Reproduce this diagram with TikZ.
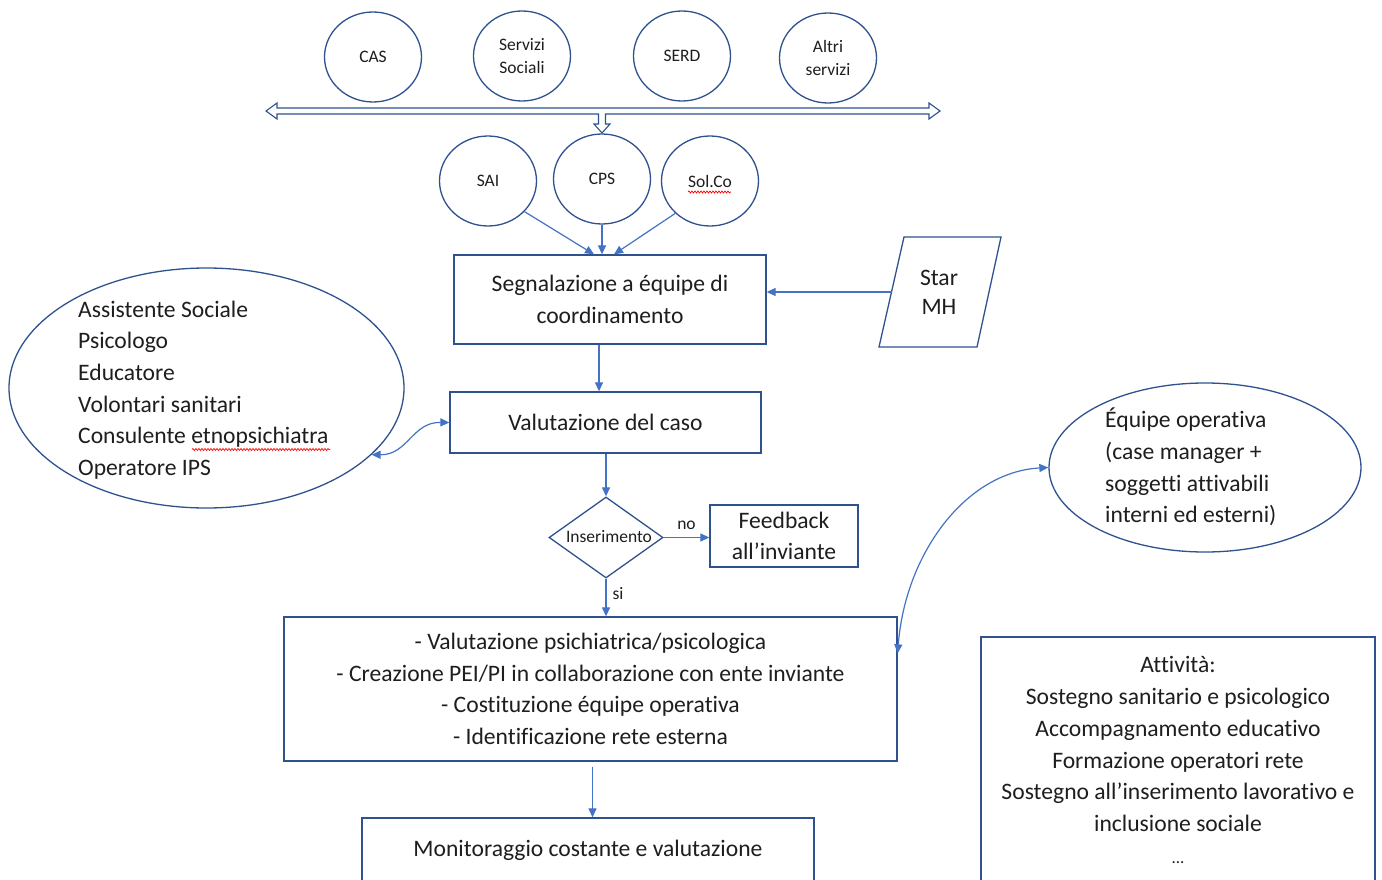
\documentclass[tikz,border=0pt]{standalone}
\usepackage{fontspec}
\setmainfont{Carlito}[Ligatures=NoCommon]
\usetikzlibrary{shapes.geometric,arrows.meta,decorations.pathmorphing}
\definecolor{shapeblue}{RGB}{47,82,143}
\definecolor{arrowblue}{RGB}{68,114,196}
\definecolor{txt}{RGB}{30,30,30}
\begin{document}
\begin{tikzpicture}[x=1pt,y=-1pt,
  shp/.style={draw=shapeblue,line width=1.3pt},
  box/.style={shp,rectangle,inner sep=0pt,text=txt,align=center,font=\fontsize{23.6}{31.7}\selectfont},
  circ/.style={shp,ellipse,inner sep=0pt,minimum width=97pt,minimum height=90pt,text=txt,align=center,font=\fontsize{17.5}{23}\selectfont},
  plain/.style={inner sep=0pt,text=txt,font=\fontsize{23.6}{31.7}\selectfont},
  small/.style={inner sep=0pt,text=txt,font=\fontsize{17.5}{23}\selectfont},
  arr/.style={draw=arrowblue,line width=1.2pt,-{Triangle[length=9pt,width=8pt]}},
  darr/.style={draw=arrowblue,line width=1.2pt,{Triangle[length=9pt,width=8pt]}-{Triangle[length=9pt,width=8pt]}},
  squiggle/.style={draw=red,line width=0.7pt,decorate,decoration={snake,amplitude=1pt,segment length=3pt}},
]
\clip (0,0) rectangle (1382,880);
\fill[white] (0,0) rectangle (1382,880);

% top services
\node[circ] (cas) at (373,57) {CAS};
\node[circ] (ss) at (522,56) {Servizi\\Sociali};
\node[circ] (serd) at (682,56) {SERD};
\node[circ] (altri) at (828,58) {Altri\\servizi};

% hollow double arrow
\draw[draw=shapeblue,line width=1.1pt,fill=white]
  (266,111) -- (277,103) -- (277,108) -- (929,108) -- (929,103) -- (940,111) -- (929,119) -- (929,114)
  -- (605.5,114) -- (605.5,124) -- (610,124) -- (602,133) -- (594,124) -- (598.5,124) -- (598.5,114)
  -- (277,114) -- (277,119) -- cycle;

% second row
\node[circ] (sai) at (488,181) {SAI};
\node[circ] (cps) at (602,179) {CPS};
\node[circ] (solco) at (710,181) {Sol.Co};
\draw[squiggle] (688,192) -- (731,192);

% main boxes
\node[box,minimum width=312pt,minimum height=89pt] (segn) at (610,299.5) {Segnalazione a équipe di\\coordinamento};
\node[box,minimum width=311pt,minimum height=61pt] (valut) at (605.5,422.5) {Valutazione del caso};
\node[box,minimum width=148pt,minimum height=62pt] (feed) at (784,536) {Feedback\\all’inviante};
\node[box,minimum width=613pt,minimum height=144pt] (big) at (590.5,689) {- Valutazione psichiatrica/psicologica\\- Creazione PEI/PI in collaborazione con ente inviante\\- Costituzione équipe operativa\\- Identificazione rete esterna};
\node[box,minimum width=452pt,minimum height=64pt] (mon) at (588,850) {Monitoraggio costante e valutazione};
\node[box,minimum width=394pt,minimum height=246pt] (att) at (1178,760) {Attività:\\Sostegno sanitario e psicologico\\Accompagnamento educativo\\Formazione operatori rete\\Sostegno all’inserimento lavorativo e\\inclusione sociale\\\fontsize{17}{20}\selectfont ...};

% Star MH parallelogram
\draw[shp] (904,237) -- (1001,237) -- (977,347) -- (879,347) -- cycle;
\node[plain,align=center,font=\fontsize{23.6}{29}\selectfont] (star) at (939,292.5) {Star\\MH};
\coordinate (starl) at (891.5,292);

% diamond
\node[shp,diamond,minimum width=114pt,minimum height=81pt,inner sep=0pt] (ins) at (606,537.5) {};
\node[small] (instext) at (609,537) {Inserimento};

% left ellipse
\node[shp,ellipse,minimum width=395pt,minimum height=240pt,inner sep=0pt] (staff) at (206.5,388) {};
\node[plain,anchor=west,align=left] (stafftext) at (78,390) {Assistente Sociale\\Psicologo\\Educatore\\Volontari sanitari\\Consulente etnopsichiatra\\Operatore IPS};
\draw[squiggle] (192,449.5) -- (330,449.5);

% right ellipse
\node[shp,ellipse,minimum width=312pt,minimum height=169pt,inner sep=0pt] (emp) at (1205,467.5) {};
\node[plain,anchor=west,align=left] (emptext) at (1105,467) {Équipe operativa\\(case manager +\\soggetti attivabili\\interni ed esterni)};

% connectors
\draw[arr] (sai.-40) -- ([xshift=-16pt]segn.north);
\draw[arr] (cps.south) -- (cps.south |- segn.north);
\draw[arr] (solco.-137) -- ([xshift=4pt]segn.north);
\draw[arr] (starl) -- (starl -| segn.east);
\draw[arr] ([xshift=-11pt]segn.south) -- ([xshift=-11pt]segn.south |- valut.north);
\draw[darr] (staff.-22) .. controls (408,455) and (412,422) .. (valut.west);
\draw[arr] (valut.south -| ins.north) -- (ins.north);
\draw[arr] (ins.east) -- node[small,above=7pt,pos=0.5] (no) {no} (feed.west |- ins.east);
\draw[arr] (ins.south) -- node[small,right=6pt,pos=0.4] (si) {si} (ins.south |- big.north);
\draw[arr] ([xshift=2pt,yshift=-5pt]big.south) -- ([xshift=2pt]big.south |- mon.north);
\draw[darr] ([yshift=-37pt]big.north east) .. controls (905,555) and (965,472) .. (emp.west);
\end{tikzpicture}
\end{document}
